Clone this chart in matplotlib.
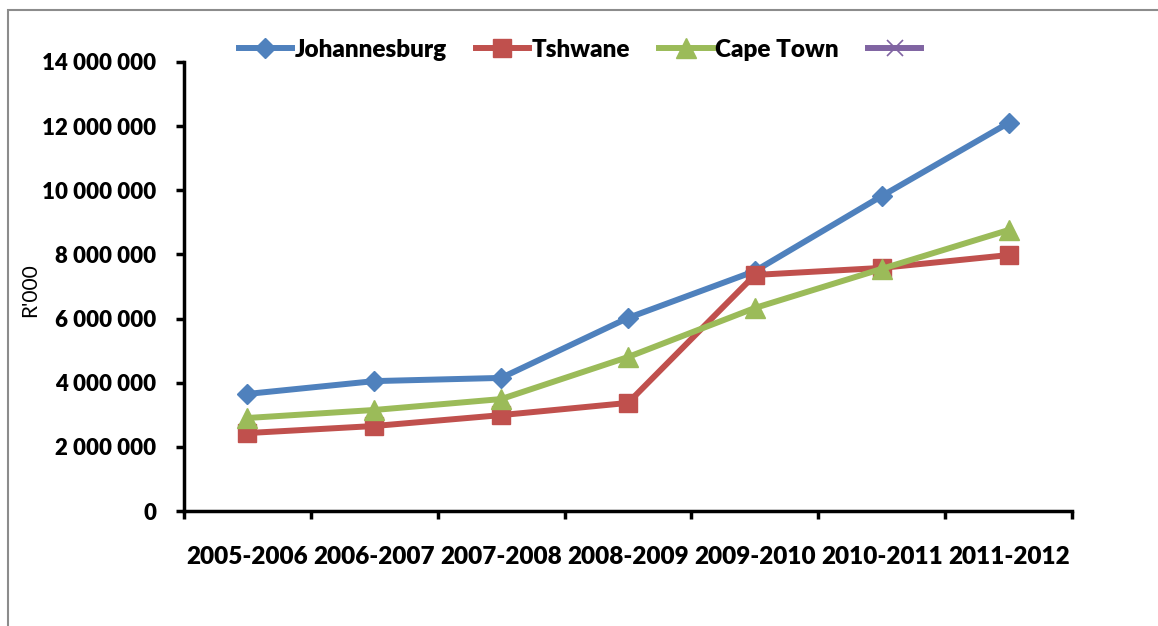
import matplotlib
matplotlib.use("Agg")
import matplotlib.pyplot as plt
import matplotlib.patches as mpatches
from matplotlib.ticker import FixedLocator, FuncFormatter, NullFormatter

categories = ["2005-2006", "2006-2007", "2007-2008", "2008-2009", "2009-2010", "2010-2011", "2011-2012"]
johannesburg = [3650000, 4050000, 4150000, 6020000, 7480000, 9820000, 12100000]
tshwane = [2430000, 2650000, 2990000, 3370000, 7360000, 7580000, 7980000]
cape_town = [2900000, 3150000, 3490000, 4800000, 6330000, 7550000, 8760000]
series_names = ["Johannesburg", "Tshwane", "Cape Town", " "]
y_ticks = [0, 2000000, 4000000, 6000000, 8000000, 10000000, 12000000, 14000000]

FONT = "Lato"
WEIGHT = "heavy"
W, H = 1158, 626
fig = plt.figure(figsize=(W / 100, H / 100), dpi=100)
ax = fig.add_axes([184 / W, 1 - 511 / H, (1072 - 184) / W, (511 - 62) / H])

x = list(range(len(categories)))
lw = 4.3
ax.plot(x, johannesburg, color="#4F81BD", lw=lw, marker="D", ms=10.5, mec="#4F81BD", label=series_names[0])
ax.plot(x, tshwane, color="#C0504D", lw=lw, marker="s", ms=13.5, mec="#C0504D", label=series_names[1])
ax.plot(x, cape_town, color="#9BBB59", lw=lw, marker="^", ms=14, mec="#9BBB59", label=series_names[2])
ax.plot([], [], color="#8064A2", lw=lw, marker="x", ms=12, mew=1.2, mec="#8064A2", label=series_names[3])

ax.set_xlim(-0.5, len(categories) - 0.5)
ax.set_ylim(0, 14000000)

# y axis
ax.yaxis.set_major_locator(FixedLocator(y_ticks))
ax.yaxis.set_major_formatter(FuncFormatter(lambda v, p: f"{int(v):,}".replace(",", " ")))
ax.tick_params(axis="y", which="major", length=6, width=2.5, direction="out", pad=14,
               labelsize=16)

# x axis: boundary ticks, centered labels
ax.xaxis.set_major_locator(FixedLocator([i - 0.5 for i in range(len(categories) + 1)]))
ax.xaxis.set_major_formatter(NullFormatter())
ax.xaxis.set_minor_locator(FixedLocator(x))
ax.set_xticklabels(categories, minor=True)
ax.tick_params(axis="x", which="major", length=6, width=2.5, direction="out")
ax.tick_params(axis="x", which="minor", length=0, pad=25, labelsize=17.5)

for lab in ax.get_xticklabels(minor=True) + ax.get_yticklabels():
    lab.set_fontfamily(FONT)
    lab.set_fontweight(WEIGHT)

for s in ["top", "right"]:
    ax.spines[s].set_visible(False)
for s in ["left", "bottom"]:
    ax.spines[s].set_linewidth(2.5)
    ax.spines[s].set_color("black")

fig.text(30 / W, 1 - 290 / H, "R'000", rotation=90, ha="center", va="center",
         fontsize=15, fontfamily=FONT)

leg = fig.legend(loc="center", bbox_to_anchor=((238 + 930) / 2 / W, 1 - 50 / H), ncol=4,
                 frameon=False, handlelength=2.2, columnspacing=1.2, handletextpad=0.1,
                 prop={"family": FONT, "weight": WEIGHT, "size": 17.5})

# outer chart border
fig.patches.append(mpatches.Rectangle((8 / W, -0.2), 1.5, (1 - 10 / H) + 0.2,
                                      transform=fig.transFigure, fill=False,
                                      edgecolor="#8c8c8c", lw=1.5))

fig.savefig("out.png", dpi=100)
